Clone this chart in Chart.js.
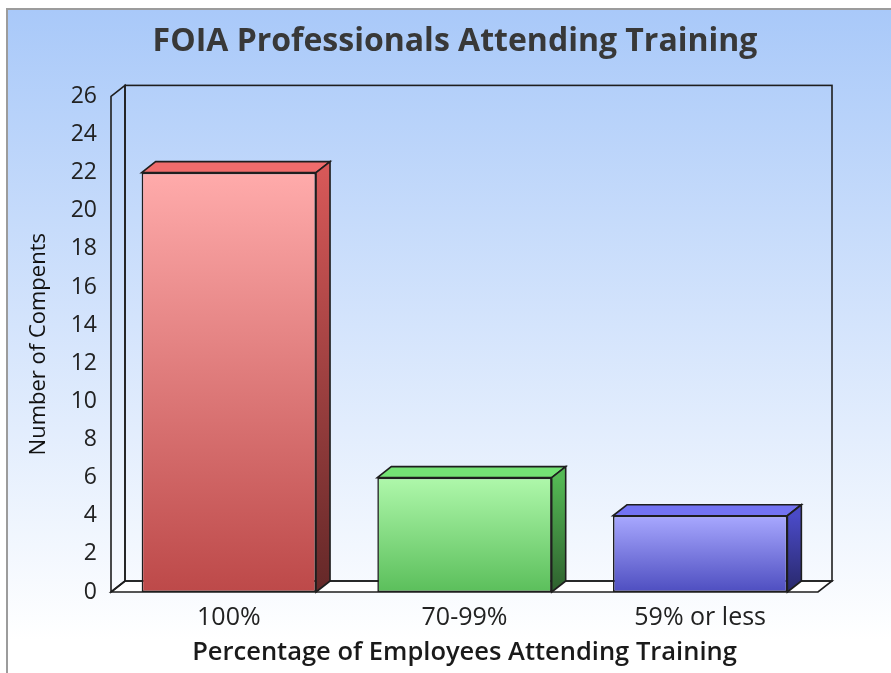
<!DOCTYPE html>
<html>
<head>
<meta charset="utf-8">
<title>FOIA Professionals Attending Training</title>
<script src="https://cdn.jsdelivr.net/npm/chart.js@4.4.1/dist/chart.umd.min.js"></script>
<style>
  html, body { margin: 0; padding: 0; background: #fff; }
  canvas { display: block; }
</style>
</head>
<body>
<canvas id="trainingChart" width="891" height="673"></canvas>
<script>
// == data ==
const categories = ['100%', '70-99%', '59% or less'];
const components = [22, 6, 4];
const yTickValues = [0, 2, 4, 6, 8, 10, 12, 14, 16, 18, 20, 22, 24, 26];

// == look of the 3D bars ==
const barFronts = [['#ffabab', '#bd4949'], ['#aff8ab', '#5bbf5b'], ['#a8a8ff', '#4e4ec0']];
const barTops = ['#f06c6c', '#74e374', '#7373f3'];
const barSides = [['#d65858', '#642828'], ['#54b854', '#2e602e'], ['#4a4ac6', '#28286a']];
const DEPTH_X = 14;
const DEPTH_Y = 11;
const LINE = '#1e1e1e';

Chart.defaults.font.family = "'Open Sans', sans-serif";

function vGradient(ctx, y0, y1, c0, c1) {
    const g = ctx.createLinearGradient(0, y0, 0, y1);
    g.addColorStop(0, c0);
    g.addColorStop(1, c1);
    return g;
}

function poly(ctx, pts, fill) {
    ctx.beginPath();
    ctx.moveTo(pts[0][0], pts[0][1]);
    for (let i = 1; i < pts.length; i++) ctx.lineTo(pts[i][0], pts[i][1]);
    ctx.closePath();
    if (fill) {
        ctx.fillStyle = fill;
        ctx.fill();
    }
    ctx.stroke();
}

// background, back wall, floor and the top/side faces of the bars
const frame3d = {
    id: 'frame3d',
    beforeDraw(chart) {
        const { ctx, width, height } = chart;
        ctx.save();
        ctx.fillStyle = '#ffffff';
        ctx.fillRect(0, 0, width, height);
        ctx.fillStyle = vGradient(ctx, 10, 640, '#a9c9f9', '#ffffff');
        ctx.fillRect(8, 10, width - 8, height - 10);
        ctx.strokeStyle = '#9c9c9c';
        ctx.lineWidth = 2;
        ctx.beginPath();
        ctx.moveTo(7, height);
        ctx.lineTo(7, 9);
        ctx.lineTo(width, 9);
        ctx.stroke();
        ctx.restore();
    },
    beforeDatasetsDraw(chart) {
        const { ctx, chartArea } = chart;
        const { left, right, top, bottom } = chartArea;
        ctx.save();
        ctx.strokeStyle = LINE;
        ctx.lineWidth = 1.6;
        // floor
        poly(ctx, [[left, bottom], [right, bottom], [right + DEPTH_X, bottom - DEPTH_Y], [left + DEPTH_X, bottom - DEPTH_Y]], '#ffffff');
        // back wall
        ctx.strokeRect(left + DEPTH_X, top - DEPTH_Y, right - left, bottom - top);
        // left wall
        poly(ctx, [[left, bottom], [left, top], [left + DEPTH_X, top - DEPTH_Y], [left + DEPTH_X, bottom - DEPTH_Y]]);
        ctx.restore();
    },
    afterDatasetsDraw(chart) {
        const { ctx } = chart;
        const meta = chart.getDatasetMeta(0);
        ctx.save();
        ctx.strokeStyle = LINE;
        ctx.lineWidth = 1.6;
        meta.data.forEach((bar, i) => {
            const p = bar.getProps(['x', 'y', 'base', 'width'], true);
            const l = p.x - p.width / 2;
            const r = p.x + p.width / 2;
            poly(ctx, [[l, p.y], [l + DEPTH_X, p.y - DEPTH_Y], [r + DEPTH_X, p.y - DEPTH_Y], [r, p.y]], barTops[i]);
            poly(ctx, [[r, p.y], [r + DEPTH_X, p.y - DEPTH_Y], [r + DEPTH_X, p.base - DEPTH_Y], [r, p.base]],
                vGradient(ctx, p.y, p.base, barSides[i][0], barSides[i][1]));
        });
        ctx.restore();
    }
};

const canvas = document.getElementById('trainingChart');
new Chart(canvas.getContext('2d'), {
    type: 'bar',
    data: {
        labels: categories,
        datasets: [{
            label: 'Number of Compents',
            data: components,
            yAxisID: 'y',
            backgroundColor(context) {
                const { chart, dataIndex } = context;
                if (context.type !== 'data' || !chart.chartArea) return barFronts[0][1];
                const yScale = chart.scales.y;
                const yTop = yScale.getPixelForValue(components[dataIndex]);
                const yBase = yScale.getPixelForValue(0);
                return vGradient(chart.ctx, yTop, yBase, barFronts[dataIndex][0], barFronts[dataIndex][1]);
            },
            borderColor: LINE,
            borderWidth: 1.6,
            borderSkipped: false,
            categoryPercentage: 1,
            barPercentage: 0.74
        }]
    },
    options: {
        responsive: false,
        animation: false,
        layout: { padding: { left: 19, right: 0, top: 0, bottom: 0 } },
        plugins: {
            legend: { display: false },
            tooltip: { enabled: false },
            title: {
                display: true,
                text: 'FOIA Professionals Attending Training',
                color: '#383838',
                font: { size: 32, weight: 'bold' },
                padding: { top: 23, bottom: 35 }
            }
        },
        scales: {
            x: {
                grid: { display: false, drawTicks: false },
                border: { display: false },
                ticks: { color: '#222222', font: { size: 25 }, padding: 11 },
                title: {
                    display: true,
                    text: 'Percentage of Employees Attending Training',
                    color: '#1a1a1a',
                    font: { size: 25.5, weight: '600' },
                    padding: { top: 0, bottom: 5 }
                },
                afterFit(scale) { scale.height = 81; }
            },
            y: {
                min: 0,
                max: 26,
                afterBuildTicks(scale) {
                    scale.ticks = yTickValues.map(v => ({ value: v }));
                },
                grid: { display: false, drawTicks: false },
                border: { display: false },
                ticks: { color: '#222222', font: { size: 23 }, padding: 14 },
                title: {
                    display: true,
                    text: 'Number of Compents',
                    color: '#111111',
                    font: { size: 22, weight: '500' },
                    padding: { top: 7, bottom: 0 }
                },
                afterFit(scale) { scale.width = 92; }
            },
            spacer: {
                type: 'linear',
                position: 'right',
                grid: { display: false, drawTicks: false },
                border: { display: false },
                ticks: { display: false },
                afterFit(scale) { scale.width = 73; }
            }
        }
    },
    plugins: [frame3d]
});
</script>
</body>
</html>
